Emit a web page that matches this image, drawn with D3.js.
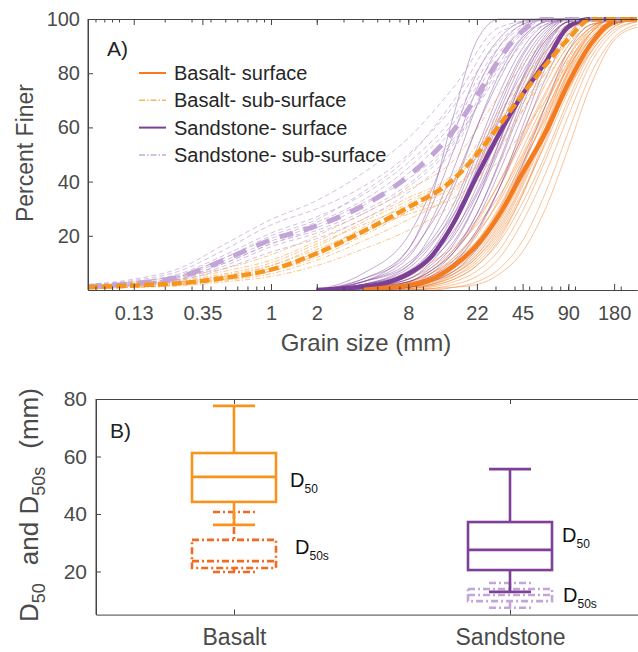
<!DOCTYPE html>
<html>
<head>
<meta charset="utf-8">
<script src="https://cdn.jsdelivr.net/npm/d3@7"></script>
<style>
body { margin: 0; background: #fff; }
text { font-family: "Liberation Sans", Arial, Helvetica, sans-serif; }
</style>
</head>
<body>
<svg id="chart" width="638" height="652"></svg>
<script>
// ---- panel A: grain size distributions ----
var xTickValues = [0.125, 0.3536, 1, 2, 8, 22.63, 45.25, 90.51, 181.02];
var xTickLabels = ["0.13", "0.35", "1", "2", "8", "22", "45", "90", "180"];
var yTicksA = [20, 40, 60, 80, 100];

var basaltSurfSizes = [4, 8, 11.2, 16, 22.6, 32, 45, 64, 90, 128, 180, 256];
var sandSurfSizes = [2, 4, 8, 11.2, 16, 22.6, 32, 45, 64, 90, 128, 256];
var subSizes = [0.0625, 0.125, 0.25, 0.5, 1, 2, 4, 8, 16, 32, 64, 128, 256];

// thin curves, one row per sample (percent finer at the sizes above)
var basaltSurfThin = [
  [0, 2, 5, 12, 22, 38, 55, 72, 88, 97, 100, 100],
  [0, 3, 7, 14, 25, 40, 58, 76, 90, 98, 100, 100],
  [0, 1, 3, 7, 14, 26, 42, 60, 79, 93, 99, 100],
  [0, 0.5, 1.5, 4, 9, 18, 32, 50, 70, 88, 97, 100],
  [0, 0, 0.5, 2, 5, 12, 25, 43, 64, 84, 95, 99],
  [0, 0, 0, 1, 3, 8, 18, 36, 58, 80, 93, 98],
  [0, 2, 4, 8, 15, 27, 45, 65, 83, 95, 100, 100],
  [0, 4, 8, 15, 24, 35, 50, 68, 84, 95, 99, 100],
  [0, 1, 2.5, 6, 12, 22, 38, 58, 78, 92, 99, 100],
  [0, 1.5, 4, 10, 20, 34, 52, 70, 86, 96, 100, 100],
  [0, 0.5, 2, 5, 11, 21, 36, 54, 73, 89, 98, 100],
  [0, 3, 6, 11, 18, 30, 46, 64, 82, 94, 99, 100],
  [0, 1, 3, 8, 17, 30, 48, 68, 86, 97, 100, 100],
  [0, 0, 1, 3, 7, 15, 29, 48, 68, 86, 96, 99],
  [0, 2, 5, 10, 18, 31, 47, 63, 80, 93, 99, 100],
  [0, 5, 10, 16, 26, 40, 56, 73, 88, 97, 100, 100],
  [0, 1, 2, 5, 10, 20, 35, 55, 76, 91, 98, 100],
  [0, 0.5, 1.5, 4, 9, 19, 35, 57, 80, 95, 100, 100],
  [0, 2, 4, 9, 17, 29, 44, 60, 77, 90, 98, 100],
  [0, 1, 3, 7, 13, 24, 40, 62, 83, 96, 100, 100],
  [0, 0, 0.5, 1, 2, 6, 14, 30, 52, 76, 92, 97],
  [0, 1, 2, 6, 13, 25, 41, 57, 74, 88, 97, 100],
  [0, 2.5, 6, 12, 21, 33, 49, 66, 82, 93, 99, 100],
  [0, 1, 3, 6, 12, 23, 39, 60, 81, 95, 100, 100]
];
var sandSurfThin = [
  [0, 3, 12, 25, 45, 68, 86, 96, 100, 100, 100, 100],
  [0, 2, 8, 16, 30, 50, 70, 87, 97, 100, 100, 100],
  [0, 1, 4, 9, 18, 33, 52, 72, 90, 99, 100, 100],
  [0, 0.5, 2, 5, 11, 22, 38, 57, 78, 94, 100, 100],
  [0, 0, 1, 3, 7, 15, 28, 46, 68, 88, 98, 100],
  [0, 4, 15, 30, 52, 74, 90, 98, 100, 100, 100, 100],
  [0, 1, 5, 12, 24, 42, 63, 82, 95, 100, 100, 100],
  [0, 2, 7, 14, 26, 45, 66, 84, 96, 100, 100, 100],
  [0, 1, 3, 7, 15, 28, 47, 68, 87, 98, 100, 100],
  [0, 6, 20, 36, 58, 80, 93, 99, 100, 100, 100, 100],
  [0, 0.5, 2, 6, 14, 28, 48, 70, 89, 99, 100, 100],
  [0, 2, 9, 20, 38, 60, 80, 93, 99, 100, 100, 100],
  [0, 1, 4, 10, 21, 38, 58, 77, 92, 99, 100, 100],
  [0, 3, 10, 18, 32, 52, 73, 89, 98, 100, 100, 100],
  [0, 0, 1, 4, 10, 21, 38, 60, 82, 96, 100, 100],
  [0, 1, 6, 14, 28, 47, 68, 86, 97, 100, 100, 100],
  [0, 2, 6, 12, 22, 36, 55, 75, 91, 99, 100, 100],
  [0, 1, 3, 8, 17, 33, 55, 78, 94, 100, 100, 100],
  [0, 4, 13, 24, 40, 60, 78, 92, 99, 100, 100, 100],
  [0, 1, 5, 11, 20, 35, 53, 72, 88, 97, 100, 100],
  [0, 3, 15, 33, 65, 92, 100, 100, 100, 100, 100, 100],
  [0, 2, 6, 13, 26, 44, 64, 80, 93, 100, 100, 100],
  [0, 0.5, 3, 7, 14, 26, 44, 64, 84, 97, 100, 100],
  [0, 3, 9, 17, 28, 42, 60, 78, 92, 99, 100, 100]
];
var basaltSubThin = [
  [0.5, 1, 2, 3.5, 6, 11, 18, 26, 36, 58, 84, 100, 100],
  [1.5, 2.5, 4, 7, 11, 18, 26, 34, 43, 66, 88, 100, 100],
  [0.5, 1, 1.5, 3, 5, 9, 15, 22, 32, 52, 80, 100, 100],
  [1, 2, 3, 5, 9, 16, 25, 33, 42, 63, 85, 100, 100],
  [1, 2, 3.5, 6, 10, 17, 24, 31, 38, 55, 78, 98, 100],
  [0.5, 1.5, 2.5, 4, 7, 12, 20, 29, 40, 64, 88, 100, 100],
  [1, 2, 3, 5.5, 9, 15, 22, 28, 34, 48, 70, 96, 100],
  [1.5, 3, 5, 8, 13, 20, 28, 37, 48, 72, 92, 100, 100],
  [0.5, 1, 2, 4, 7, 13, 21, 29, 37, 60, 86, 100, 100],
  [1, 1.5, 2.5, 4.5, 8, 14, 23, 32, 41, 58, 80, 99, 100]
];
var sandSubThin = [
  [1, 2, 4, 9, 16, 21, 28, 38, 54, 82, 100, 100, 100],
  [1.5, 3, 6, 13, 21, 27, 35, 47, 64, 90, 100, 100, 100],
  [1, 2, 4, 10, 17, 22, 29, 39, 55, 80, 98, 100, 100],
  [2, 3.5, 7, 15, 24, 30, 38, 50, 68, 92, 100, 100, 100],
  [1, 1.5, 3.5, 8, 14, 19, 26, 36, 52, 84, 100, 100, 100],
  [1.5, 2.5, 5, 12, 19, 25, 33, 45, 62, 88, 100, 100, 100],
  [1, 2, 4.5, 10, 17, 23, 31, 43, 60, 86, 100, 100, 100],
  [2, 4, 8, 17, 26, 33, 43, 56, 75, 97, 100, 100, 100],
  [1, 2, 5, 11, 18, 24, 32, 41, 56, 83, 99, 100, 100],
  [1.5, 3, 5.5, 12, 20, 26, 36, 49, 70, 95, 100, 100, 100]
];

// mean curves
var basaltSurfMeanSizes = [4, 5.6, 8, 11.2, 16, 22.6, 32, 45, 64, 90, 128, 180, 256];
var basaltSurfMean = [0, 0.8, 1.8, 3.8, 9, 16.5, 28, 43, 58, 76, 91, 99, 100];
var sandSurfMeanSizes = [2, 4, 5.6, 8, 11.2, 16, 22.6, 32, 45, 64, 90, 128, 256];
var sandSurfMean = [0, 1.2, 2.5, 6, 12, 25, 42, 58, 72, 84, 97, 100, 100];
var subMeanSizes = [0.0625, 0.125, 0.25, 0.5, 1, 2, 4, 8, 16, 22.6, 32, 45, 64, 90, 128, 256];
var basaltSubMean = [1, 1.7, 2.5, 4.5, 7.5, 13.5, 21.5, 30.5, 41, 50, 61, 72, 83, 92.5, 100, 100];
var sandSubMean = [1.3, 2.4, 4.8, 11.3, 18.5, 23.7, 31, 42, 59, 71.5, 85.5, 95.5, 100, 100, 100, 100];

var legendLabels = ["Basalt- surface", "Basalt- sub-surface", "Sandstone- surface", "Sandstone- sub-surface"];

// ---- panel B: D50 box plots ----
var boxCategories = ["Basalt", "Sandstone"];
var yTicksB = [20, 40, 60, 80];
var surfWhiskerLow = [36.2, 12.9];
var surfQ1 = [44.2, 20.5];
var surfMedian = [52.9, 27.5];
var surfQ3 = [61.2, 37.2];
var surfWhiskerHigh = [77.6, 55.6];
var subWhiskerLow = [19.8, 7.4];
var subQ1 = [21.2, 9.7];
var subMedian = [23.6, 11.8];
var subQ3 = [31, 13.9];
var subWhiskerHigh = [40.7, 16];

var axisColor = "#444";
var labelColor = "#4a4a4a";

var svg = d3.select("#chart");

// ================= panel A =================
var xA = d3.scaleLog().base(2).domain([0.0625, 256]).range([88, 637]);
var yA = d3.scaleLinear().domain([0, 100]).range([290, 19]);

svg.append("defs").append("clipPath").attr("id", "clipA")
  .append("rect").attr("x", 88).attr("y", 17).attr("width", 550).attr("height", 274);

var plotA = svg.append("g").attr("clip-path", "url(#clipA)");

var line = d3.line()
  .x(function(d) { return xA(d[0]); })
  .y(function(d) { return yA(d[1]); })
  .curve(d3.curveMonotoneX);

function drawCurve(sizes, values, color, width, opacity, dash) {
  var pts = sizes.map(function(s, i) { return [s, values[i]]; });
  plotA.append("path")
    .attr("d", line(pts))
    .attr("fill", "none")
    .attr("stroke", color)
    .attr("stroke-width", width)
    .attr("stroke-opacity", opacity)
    .attr("stroke-dasharray", dash || null)
    .attr("stroke-linejoin", "round");
}

basaltSurfThin.forEach(function(v) { drawCurve(basaltSurfSizes, v, "#f47b20", 0.9, 0.5); });
sandSurfThin.forEach(function(v) { drawCurve(sandSurfSizes, v, "#7d3f98", 0.8, 0.55); });
basaltSubThin.forEach(function(v) { drawCurve(subSizes, v, "#f9a040", 0.8, 0.75, "5,2,1.5,2"); });
sandSubThin.forEach(function(v) { drawCurve(subSizes, v, "#b99ad0", 0.8, 0.8, "5,3"); });

drawCurve(sandSurfMeanSizes, sandSurfMean, "#7b3f98", 4.5, 1);
drawCurve(basaltSurfMeanSizes, basaltSurfMean, "#f47b20", 4.5, 1);
drawCurve(subMeanSizes, sandSubMean, "#c2a5d6", 5, 1, "14,11");
drawCurve(subMeanSizes, basaltSubMean, "#f7941d", 4.5, 1, "10,4");

// axes
var minorTicks = d3.scaleLog().domain([0.0625, 256]).ticks()
  .filter(function(t) { return t > 0.0625 && t < 256; });

function styleAxis(g) {
  g.select(".domain").attr("stroke", axisColor);
  g.selectAll(".tick line").attr("stroke", axisColor);
  g.selectAll(".tick text").attr("fill", labelColor);
}

svg.append("g").attr("transform", "translate(0,290)")
  .call(d3.axisBottom(xA).tickValues(minorTicks).tickFormat("").tickSizeInner(-3.5).tickSizeOuter(0))
  .call(styleAxis);
svg.append("g").attr("transform", "translate(0,19)")
  .call(d3.axisTop(xA).tickValues(minorTicks).tickFormat("").tickSizeInner(-3.5).tickSizeOuter(0))
  .call(styleAxis);
svg.append("g").attr("transform", "translate(0,290)")
  .call(d3.axisBottom(xA).tickValues(xTickValues)
    .tickFormat(function(d, i) { return xTickLabels[i]; })
    .tickSizeInner(-6).tickSizeOuter(0).tickPadding(16))
  .call(styleAxis)
  .selectAll("text").attr("font-size", 20).attr("font-family", "Liberation Sans, Arial, sans-serif");
svg.append("g").attr("transform", "translate(0,19)")
  .call(d3.axisTop(xA).tickValues(xTickValues).tickFormat("").tickSizeInner(-6).tickSizeOuter(0))
  .call(styleAxis);
svg.append("g").attr("transform", "translate(88,0)")
  .call(d3.axisLeft(yA).tickValues(yTicksA).tickSizeInner(-5).tickSizeOuter(0).tickPadding(8))
  .call(styleAxis)
  .selectAll("text").attr("font-size", 20).attr("font-family", "Liberation Sans, Arial, sans-serif");
svg.append("line").attr("x1", 88).attr("x2", 88).attr("y1", 19).attr("y2", 290).attr("stroke", axisColor);

svg.append("text").attr("transform", "translate(33,153) rotate(-90)")
  .attr("text-anchor", "middle").attr("font-size", 23).attr("fill", labelColor)
  .text("Percent Finer");
svg.append("text").attr("x", 366).attr("y", 351)
  .attr("text-anchor", "middle").attr("font-size", 24).attr("fill", labelColor)
  .text("Grain size (mm)");
svg.append("text").attr("x", 107).attr("y", 56)
  .attr("font-size", 21).attr("fill", "#222").text("A)");

// legend
var legendColors = ["#f47b20", "#fbb462", "#7b3f98", "#c5aad8"];
var legendDash = [null, "6,2,1.5,2", null, "6,2,1.5,2"];
var legend = svg.append("g").selectAll("g").data(legendLabels).enter().append("g")
  .attr("transform", function(d, i) { return "translate(0," + (73 + i * 27.3) + ")"; });
legend.append("line").attr("x1", 139).attr("x2", 166)
  .attr("stroke", function(d, i) { return legendColors[i]; })
  .attr("stroke-width", function(d, i) { return legendDash[i] ? 1.5 : 2; })
  .attr("stroke-dasharray", function(d, i) { return legendDash[i]; });
legend.append("text").attr("x", 174).attr("y", 7)
  .attr("font-size", 20).attr("fill", "#262626")
  .text(function(d) { return d; });

// ================= panel B =================
var xB = d3.scalePoint().domain(boxCategories).range([96, 648]).padding(0.5);
var yB = d3.scaleLinear().domain([5, 80]).range([614.6, 399]);

var boxHalf = 42, capHalf = 21;

function drawBoxes(low, q1, med, q3, high, colors, dash) {
  var g = svg.append("g").attr("fill", "none").attr("stroke-width", 2.6);
  boxCategories.forEach(function(c, i) {
    var cx = xB(c);
    var col = colors[i];
    function seg(x1, y1, x2, y2) {
      g.append("line").attr("x1", x1).attr("y1", y1).attr("x2", x2).attr("y2", y2)
        .attr("stroke", col).attr("stroke-dasharray", dash);
    }
    seg(cx, yB(high[i]), cx, yB(q3[i]));
    seg(cx, yB(q1[i]), cx, yB(low[i]));
    seg(cx - capHalf, yB(high[i]), cx + capHalf, yB(high[i]));
    seg(cx - capHalf, yB(low[i]), cx + capHalf, yB(low[i]));
    g.append("rect").attr("x", cx - boxHalf).attr("y", yB(q3[i]))
      .attr("width", boxHalf * 2).attr("height", yB(q1[i]) - yB(q3[i]))
      .attr("stroke", col).attr("stroke-dasharray", dash);
    seg(cx - boxHalf, yB(med[i]), cx + boxHalf, yB(med[i]));
  });
}

drawBoxes(subWhiskerLow, subQ1, subMedian, subQ3, subWhiskerHigh, ["#f26a22", "#c3a6d8"], "7,3,2,3");
drawBoxes(surfWhiskerLow, surfQ1, surfMedian, surfQ3, surfWhiskerHigh, ["#f7941d", "#7d3f98"], null);

svg.append("g").attr("transform", "translate(0,614.6)")
  .call(d3.axisBottom(xB).tickSizeInner(-5).tickSizeOuter(0).tickPadding(14))
  .call(styleAxis)
  .selectAll("text").attr("font-size", 23).attr("font-family", "Liberation Sans, Arial, sans-serif");
svg.append("g").attr("transform", "translate(0,399)")
  .call(d3.axisTop(xB).tickFormat("").tickSizeInner(-5).tickSizeOuter(0))
  .call(styleAxis);
svg.append("g").attr("transform", "translate(96,0)")
  .call(d3.axisLeft(yB).tickValues(yTicksB).tickSizeInner(-5).tickSizeOuter(0).tickPadding(9))
  .call(styleAxis)
  .selectAll("text").attr("font-size", 21).attr("font-family", "Liberation Sans, Arial, sans-serif");
svg.append("line").attr("x1", 96).attr("x2", 96).attr("y1", 399).attr("y2", 614.6).attr("stroke", axisColor);

svg.append("text").attr("x", 110).attr("y", 438)
  .attr("font-size", 21).attr("fill", "#222").text("B)");

// D50 / D50s labels next to boxes
function dLabel(x, y, sub) {
  var t = svg.append("text").attr("x", x).attr("y", y)
    .attr("font-family", "Lato, 'Open Sans', sans-serif").attr("fill", "#111").attr("font-size", 20);
  t.append("tspan").text("D");
  t.append("tspan").attr("font-size", 12).attr("dy", 6).text(sub);
}
dLabel(xB("Basalt") + 56, 487, "50");
dLabel(xB("Basalt") + 61, 554, "50s");
dLabel(xB("Sandstone") + 52, 542, "50");
dLabel(xB("Sandstone") + 53, 602, "50s");

var yLab = svg.append("text").attr("transform", "translate(38,505) rotate(-90)")
  .attr("text-anchor", "middle").attr("font-size", 26).attr("fill", labelColor);
yLab.append("tspan").text("D");
yLab.append("tspan").attr("font-size", 18).attr("dy", 7).text("50");
yLab.append("tspan").attr("dy", -7).attr("dx", 18).text("and D");
yLab.append("tspan").attr("font-size", 18).attr("dy", 7).text("50s");
yLab.append("tspan").attr("dy", -7).attr("dx", 18).text("(mm)");
</script>
</body>
</html>
